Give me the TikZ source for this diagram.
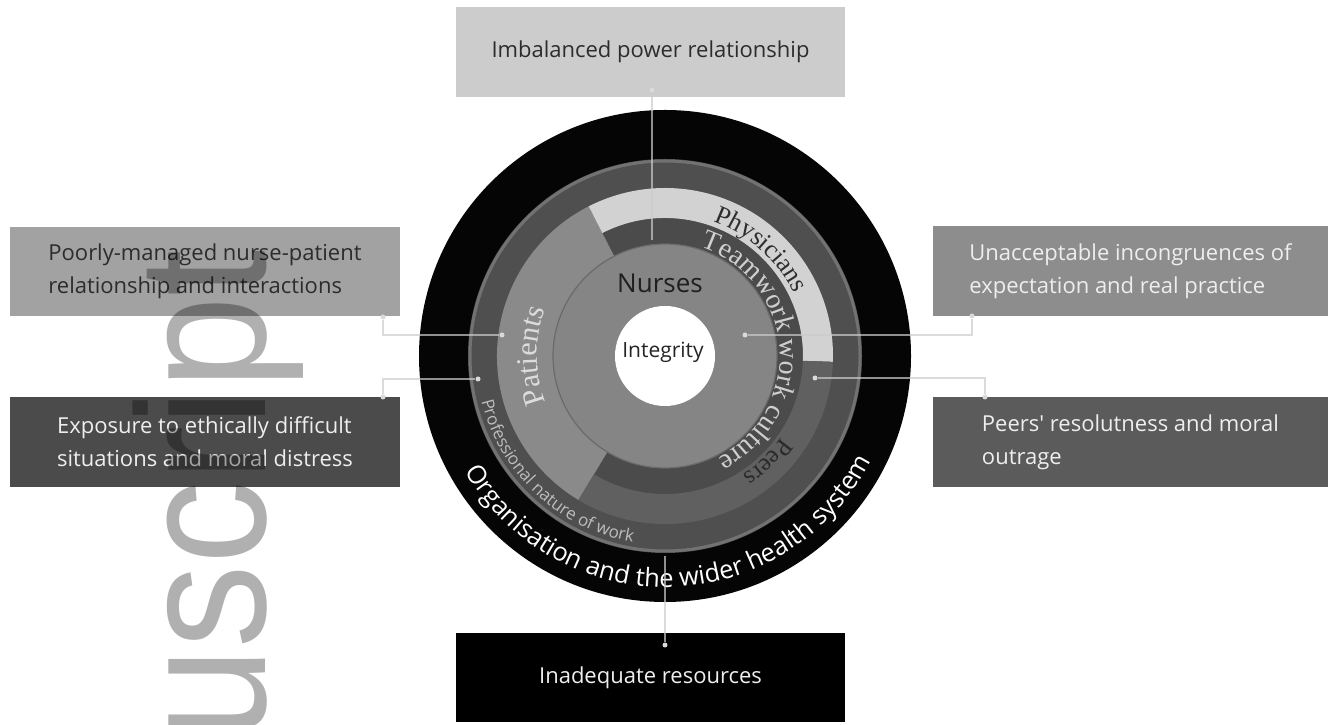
\documentclass[tikz,border=0pt]{standalone}
\usepackage{fontspec}
\usetikzlibrary{decorations.text}
\newfontfamily\boxfont{Open Sans}
\newfontfamily\serfont{Liberation Serif}
\newfontfamily\markfont{Liberation Sans}

\definecolor{ringblack}{HTML}{050505}
\definecolor{profgray}{HTML}{4F4F4F}
\definecolor{glowgray}{HTML}{727272}
\definecolor{teamgray}{HTML}{4B4B4B}
\definecolor{patgray}{HTML}{8A8A8A}
\definecolor{phygray}{HTML}{D2D2D2}
\definecolor{peergray}{HTML}{606060}
\definecolor{nursegray}{HTML}{858585}
\definecolor{nurseline}{HTML}{6A6A6A}
\definecolor{boxtop}{HTML}{CCCCCC}
\definecolor{boxlt}{HTML}{A2A2A2}
\definecolor{boxlb}{HTML}{4B4B4B}
\definecolor{boxrt}{HTML}{8D8D8D}
\definecolor{boxrb}{HTML}{5B5B5B}
\definecolor{darktext}{HTML}{2C2C2C}
\definecolor{lighttext}{HTML}{EEEEEE}
\definecolor{linkgray}{HTML}{CCCCCC}
\definecolor{dotgray}{HTML}{DADADA}

% annular sector: colour, start angle, end angle, inner radius, outer radius
\newcommand\wedgering[5]{%
  \fill[#1] (#2:#5) arc[start angle=#2, end angle=#3, radius=#5]
    -- (#3:#4) arc[start angle=#3, end angle=#2, radius=#4] -- cycle;}

\begin{document}
\begin{tikzpicture}[x=1pt, y=1pt,
  box/.style={inner sep=0, align=left,
    font=\boxfont\fontsize{22}{33}\selectfont},
  link/.style={draw=linkgray, line width=1.6, draw opacity=0.7},
  dot/.style={circle, fill=dotgray, inner sep=0, minimum size=5},
]
\useasboundingbox (0,0) rectangle (1328,725);
\fill[white] (0,0) rectangle (1328,725);

% factor boxes
\node[box, fill=boxtop, text=darktext, minimum width=389, minimum height=90]
  (power) at (650.5,673) {Imbalanced power relationship};
\node[box, fill=boxlt, text=darktext, minimum width=390, minimum height=89]
  (poorly) at (205,453.5) {Poorly-managed nurse-patient\\relationship and interactions};
\node[box, fill=boxlb, text=lighttext, minimum width=390, minimum height=90]
  (exposure) at (205,283) {Exposure to ethically difficult\\situations and moral distress};
\node[box, fill=boxrt, text=lighttext, minimum width=395, minimum height=90]
  (incong) at (1130.5,454) {Unacceptable incongruences of\\expectation and real practice};
\node[box, fill=boxrb, text=lighttext, minimum width=395, minimum height=90]
  (peersbox) at (1130.5,283) {Peers' resolutness and moral\\outrage};
\node[box, fill=black, text=lighttext, minimum width=389, minimum height=89]
  (resources) at (650.5,47.5) {Inadequate resources};

% the wheel
\begin{scope}[shift={(665,369)}]
  \fill[ringblack] (0,0) circle[radius=246];
  \fill[profgray] (0,0) circle[radius=197];
  \draw[glowgray, line width=3] (0,0) circle[radius=195];
  \wedgering{teamgray}{-121}{117}{112}{138}
  \wedgering{patgray}{117}{239}{112}{168}
  \wedgering{phygray}{-2}{117}{138}{168}
  \wedgering{peergray}{-121}{-2}{138}{168}
  \fill[nursegray] (0,0) circle[radius=112];
  \draw[nurseline, line width=1.2] (0,0) circle[radius=112];
  \fill[white] (0,0) circle[radius=50];

  % curved labels
  \path[decorate, decoration={text along path, text align=center,
      text={|\boxfont\fontsize{25.5}{25.5}\selectfont\color{white}|Organisation and the wider health system}}]
    (181.5:231) arc[start angle=181.5, end angle=361.5, radius=231];
  \path[decorate, decoration={text along path, text align=center,
      text={|\boxfont\fontsize{17}{17}\selectfont\color[HTML]{BDBDBD}|Professional nature of work}}]
    (137:189) arc[start angle=137, end angle=317, radius=189];
  \path[decorate, decoration={text along path, text align=center,
      text={|\serfont\fontsize{26}{26}\selectfont\color[HTML]{2E2E2E}|Physicians}}]
    (128:143) arc[start angle=128, end angle=-32, radius=143];
  \path[decorate, decoration={text along path, text align=center,
      text={|\serfont\fontsize{28}{28}\selectfont\color[HTML]{CFCFCF}|Teamwork work culture}}]
    (184.5:115) arc[start angle=184.5, end angle=-175.5, radius=115];
  \path[decorate, decoration={text along path, text align=center,
      text={|\serfont\fontsize{30}{30}\selectfont\color[HTML]{DCDCDC}|Patients}}]
    (270:128) arc[start angle=270, end angle=90, radius=128];
  \path[decorate, decoration={text along path, text align=center,
      text={|\serfont\fontsize{25}{25}\selectfont\color[HTML]{2A2A2A}|Peers}}]
    (44:142) arc[start angle=44, end angle=-136, radius=142];
\end{scope}

\node[font=\boxfont\fontsize{26}{26}\selectfont, text=black!88] (nurses) at (660,442) {Nurses};
\node[font=\boxfont\fontsize{21}{21}\selectfont, text=black!86] (integrity) at (663,373) {Integrity};

% connectors
\node[dot] (power-dot) at (652,635) {};
\coordinate (power-end) at (652,485);
\draw[link] (power-dot) -- (power-end);

\node[dot] (poorly-dot) at (383,408) {};
\node[dot] (poorly-end) at (502,390) {};
\draw[link] (poorly-dot) |- (poorly-end);

\node[dot] (exposure-dot) at (383,328) {};
\node[dot] (exposure-end) at (478,346) {};
\draw[link] (exposure-dot) |- (exposure-end);

\node[dot] (incong-dot) at (972,409) {};
\node[dot] (incong-end) at (745,390) {};
\draw[link] (incong-end) -| (incong-dot);

\node[dot] (peers-dot) at (985,328) {};
\node[dot] (peers-end) at (815,347) {};
\draw[link] (peers-end) -| (peers-dot);

\coordinate (res-end) at (665,169);
\node[dot] (res-dot) at (665,80) {};
\draw[link] (res-end) -- (res-dot);

% overprinted vertical stamp
\node[rotate=90, anchor=base east, inner sep=0, text=black, text opacity=0.31,
  font=\markfont\fontsize{183}{183}\selectfont] (stamp) at (265,475)
  {\scalebox{0.91}[1]{uscript}};
\end{tikzpicture}
\end{document}
